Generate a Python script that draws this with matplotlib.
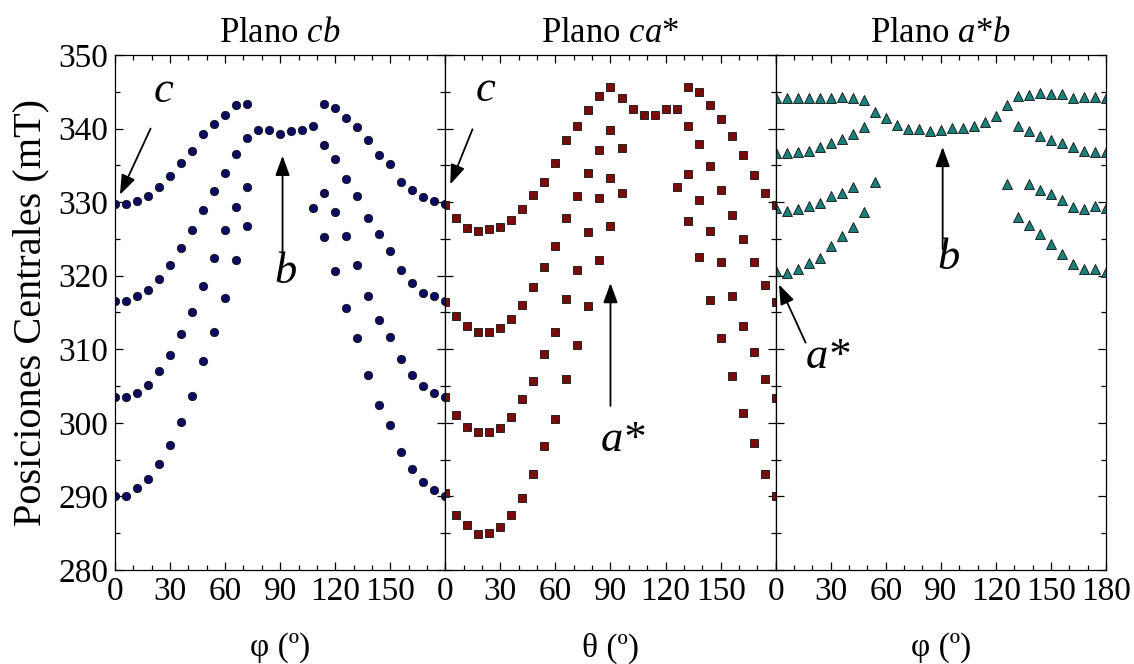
import numpy as np
import matplotlib
matplotlib.use("Agg")
import matplotlib.pyplot as plt
from matplotlib.ticker import MultipleLocator

nan = np.nan

# Rotation angles (degrees), one reading every 6 degrees
angles = np.arange(0, 181, 6)

# Plano cb: four resonance branches (mT)
cb_1 = [329.7, 329.7, 330.1, 330.8, 332.1, 333.5, 335.3, 337.0, 339.2, 340.6, 341.9, 343.2, 343.4,
        339.8, 339.8, 339.3, 339.7, 339.8, 340.3, 343.4, 342.8, 341.5, 340.2, 338.5, 336.4, 335.2,
        332.8, 331.6, 330.7, 330.1, 329.7]
cb_2 = [316.5, 316.5, 317.2, 318.1, 319.6, 321.4, 323.8, 326.2, 328.9, 331.5, 333.9, 336.6, 338.7,
        nan, nan, nan, nan, nan, 329.2, 337.8, 335.9, 333.1, 330.8, 327.8, 325.6, 323.3,
        320.8, 319.0, 317.7, 317.2, 316.5]
cb_3 = [303.5, 303.5, 304.1, 305.2, 307.1, 309.2, 312.1, 315.0, 318.6, 322.4, 326.2, 329.4, 332.1,
        nan, nan, nan, nan, nan, nan, 331.2, 328.6, 325.4, 321.4, 317.3, 314.0, 311.6,
        308.7, 306.5, 305.0, 304.0, 303.5]
cb_4 = [290.1, 290.1, 291.1, 292.3, 294.4, 297.0, 300.1, 303.6, 308.4, 312.4, 317.0, 322.1, 326.7,
        nan, nan, nan, nan, nan, nan, 325.2, 320.7, 315.6, 311.5, 306.5, 302.4, 299.7,
        296.0, 293.7, 292.0, 290.9, 290.1]

# Plano ca*
ca_1 = [329.6, 327.9, 326.5, 326.1, 326.4, 326.6, 327.6, 329.0, 331.0, 332.8, 335.3, 338.4, 340.3,
        342.5, 344.4, 345.7, 344.2, 342.7, 341.8, 341.8, 342.7, 342.6, 345.7, 345.0, 343.2, 341.3,
        339.0, 336.4, 333.7, 331.3, 329.6]
ca_2 = [316.4, 314.5, 313.1, 312.4, 312.3, 312.9, 314.1, 316.0, 318.4, 321.2, 324.1, 327.8, 330.8,
        334.0, 337.1, 339.8, 337.3, nan, nan, nan, nan, 332.0, 340.3, 337.9, 334.9, 331.6,
        328.2, 325.0, 321.9, 318.7, 316.4]
ca_3 = [303.5, 301.0, 299.5, 298.7, 298.7, 299.3, 300.8, 303.2, 305.7, 309.4, 312.4, 316.8, 320.8,
        326.0, 330.5, 333.3, 331.3, nan, nan, nan, nan, nan, 333.8, 330.3, 326.1, 321.8,
        317.3, 313.1, 309.6, 306.0, 303.4]
ca_4 = [290.5, 287.5, 286.1, 284.9, 285.0, 285.9, 287.5, 289.8, 293.0, 296.8, 300.5, 305.9, 310.6,
        315.9, 322.1, 326.8, nan, nan, nan, nan, nan, nan, 327.4, 322.5, 316.7, 311.5,
        306.3, 301.4, 297.2, 293.1, 290.1]

# Plano a*b
ab_1 = [344.2, 344.1, 344.2, 344.2, 344.2, 344.2, 344.3, 344.2, 343.9, 342.3, 341.4, 340.5, 339.9,
        340.0, 339.6, 339.8, 340.1, 340.1, 340.3, 340.9, 341.7, 343.2, 344.4, 344.6, 344.8, 344.7,
        344.7, 344.2, 344.3, 344.3, 344.2]
ab_2 = [336.7, 336.7, 336.8, 337.0, 337.5, 338.1, 338.6, 339.2, 340.2,
        nan, nan, nan, nan, nan, nan, nan, nan, nan, nan, nan, nan, nan,
        340.3, 339.6, 339.0, 338.5, 338.0, 337.5, 337.0, 336.8, 336.8]
ab_3 = [329.2, 328.8, 329.0, 329.5, 329.9, 330.8, 331.3, 332.0, nan, 332.7,
        nan, nan, nan, nan, nan, nan, nan, nan, nan, nan, nan, 332.5, nan,
        332.4, 331.6, 331.1, 330.3, 329.4, 329.1, 329.5, 329.2]
ab_4 = [320.6, 320.3, 320.9, 321.7, 322.4, 324.0, 325.4, 326.6, 328.6,
        nan, nan, nan, nan, nan, nan, nan, nan, nan, nan, nan, nan, nan,
        328.0, 326.9, 325.7, 324.3, 323.0, 321.6, 320.9, 320.9, 320.5]

plt.rcParams['font.family'] = ['Liberation Serif', 'DejaVu Serif']
plt.rcParams['mathtext.fontset'] = 'custom'
plt.rcParams['mathtext.rm'] = 'Liberation Serif'
plt.rcParams['mathtext.it'] = 'Liberation Serif:italic'

FS = 24

fig = plt.figure(figsize=(11.34, 6.64), dpi=100)
left, right, bottom, top = 0.1014, 0.9753, 0.1416, 0.9172
w = (right - left) / 3
axes = [fig.add_axes([left + i * w, bottom, w, top - bottom]) for i in range(3)]

panels = [
    ([cb_1, cb_2, cb_3, cb_4], 'o', '#0b0b62', 6.0, 'Plano $\\mathit{cb}$', '\u03c6 (\u00ba)'),
    ([ca_1, ca_2, ca_3, ca_4], 's', '#7a0c0c', 5.5, 'Plano $\\mathit{ca}$*', '\u03b8 (\u00ba)'),
    ([ab_1, ab_2, ab_3, ab_4], '^', '#1b7f7a', 6.8, 'Plano $\\mathit{a}$*$\\mathit{b}$', '\u03c6 (\u00ba)'),
]

for i, (ax, (series, mk, col, ms, title, xlab)) in enumerate(zip(axes, panels)):
    for s in series:
        ax.plot(angles, s, ls='none', marker=mk, ms=ms, mfc=col, mec='#111111', mew=0.6)
    ax.set_xlim(0, 180)
    ax.set_ylim(280, 350)
    ax.xaxis.set_major_locator(MultipleLocator(30))
    ax.xaxis.set_minor_locator(MultipleLocator(10))
    ax.yaxis.set_major_locator(MultipleLocator(10))
    ax.yaxis.set_minor_locator(MultipleLocator(5))
    ax.tick_params(which='both', direction='in', top=True, right=True, labelsize=FS, pad=5)
    ax.tick_params(which='major', length=6, width=0.9)
    ax.tick_params(which='minor', length=3.5, width=0.9)
    for sp in ax.spines.values():
        sp.set_linewidth(0.9)
    if i < 2:
        ax.set_xticks(np.arange(0, 181, 30))
        ax.set_xticklabels(['0', '30', '60', '90', '120', '150', ''])
    if i > 0:
        ax.tick_params(labelleft=False)
    ax.set_title(title, fontsize=25, pad=9)
    ax.set_xlabel(xlab, fontsize=FS, labelpad=18)

axes[0].set_ylabel('Posiciones Centrales (mT)', fontsize=29, labelpad=6)

arrow = dict(arrowstyle='-|>,head_length=0.6,head_width=0.22', color='k', lw=1.3,
             mutation_scale=20, shrinkA=0, shrinkB=0)
lbl = dict(fontsize=32, fontstyle='italic', ha='center', va='center')

# Plano cb
axes[0].annotate('', xy=(2.7, 331.0), xytext=(19.4, 340.0), arrowprops=arrow)
axes[0].text(26.2, 345.1, 'c', **lbl)
axes[0].annotate('', xy=(91.3, 336.3), xytext=(91.3, 323.3), arrowprops=arrow)
axes[0].text(93, 320.5, 'b', **lbl)

# Plano ca*
axes[1].annotate('', xy=(2.7, 332.4), xytext=(14.8, 339.9), arrowprops=arrow)
axes[1].text(21.7, 345.3, 'c', **lbl)
axes[1].annotate('', xy=(90, 319.0), xytext=(90, 302.3), arrowprops=arrow)
axes[1].text(96.8, 297.6, 'a*', **lbl)

# Plano a*b
axes[2].annotate('', xy=(91, 337.5), xytext=(91, 323.6), arrowprops=arrow)
axes[2].text(94, 322.4, 'b', **lbl)
axes[2].annotate('', xy=(1.8, 318.8), xytext=(16.3, 310.9), arrowprops=arrow)
axes[2].text(28.4, 309.0, 'a*', **lbl)

fig.savefig('out.png', dpi=100)
